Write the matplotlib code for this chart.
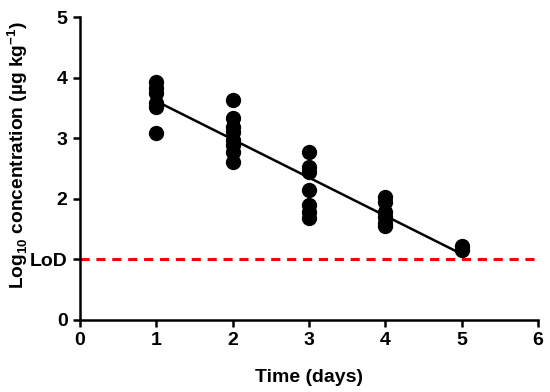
import numpy as np
import matplotlib
matplotlib.use('Agg')
import matplotlib.pyplot as plt

plt.rcParams['font.family'] = ['Liberation Sans', 'DejaVu Sans']
plt.rcParams['font.weight'] = 'bold'
plt.rcParams['mathtext.fontset'] = 'custom'
plt.rcParams['mathtext.bf'] = 'Liberation Sans:bold'
plt.rcParams['mathtext.rm'] = 'Liberation Sans:bold'

# measured values (log10 ug/kg) per day
day1 = [3.93, 3.83, 3.75, 3.58, 3.52, 3.09]
day2 = [3.63, 3.33, 3.18, 3.10, 2.97, 2.89, 2.77, 2.61]
day3 = [2.78, 2.53, 2.45, 2.15, 1.90, 1.79, 1.68]
day4 = [2.03, 1.95, 1.79, 1.70, 1.60, 1.55]
day5 = [1.22, 1.16]
days = [1, 2, 3, 4, 5]
lod = 1.0

xs = np.concatenate([[d] * len(v) for d, v in zip(days, [day1, day2, day3, day4, day5])])
ys = np.concatenate([day1, day2, day3, day4, day5])

fig = plt.figure(figsize=(5.5, 3.92), dpi=100)
ax = fig.add_axes([0.1455, 0.1837, 0.978 - 0.1455, 0.9566 - 0.1837])

ax.axhline(lod, color='#ff0000', ls=(0, (3, 2.2)), lw=2.2, zorder=1)

ax.plot(xs, ys, 'o', color='black', markersize=10, zorder=3)

slope, icpt = np.polyfit(xs, ys, 1)
fx = np.array([1, 5])
ax.plot(fx, slope * fx + icpt, color='black', lw=1.8, zorder=2)

ax.set_xlim(0, 6)
ax.set_ylim(0, 5)
ax.set_xticks(range(7))
ax.set_yticks([0, 1, 2, 3, 4, 5])
ax.set_yticklabels(['0', 'LoD', '2', '3', '4', '5'])

for s in ['top', 'right']:
    ax.spines[s].set_visible(False)
for s in ['left', 'bottom']:
    ax.spines[s].set_linewidth(1.8)
ax.tick_params(width=1.8, length=5, labelsize=14, pad=4)
for lab in ax.get_xticklabels() + ax.get_yticklabels():
    lab.set_fontweight('bold')

ax.set_xlabel('Time (days)', fontsize=14, fontweight='bold', labelpad=14)
ax.set_ylabel(r'Log$_{\mathbf{10}}$ concentration (µg kg$^{\mathbf{-1}}$)',
              fontsize=13.8, fontweight='bold')
ax.yaxis.set_label_coords(-0.11, 0.545)

fig.savefig('out.png', dpi=100)
